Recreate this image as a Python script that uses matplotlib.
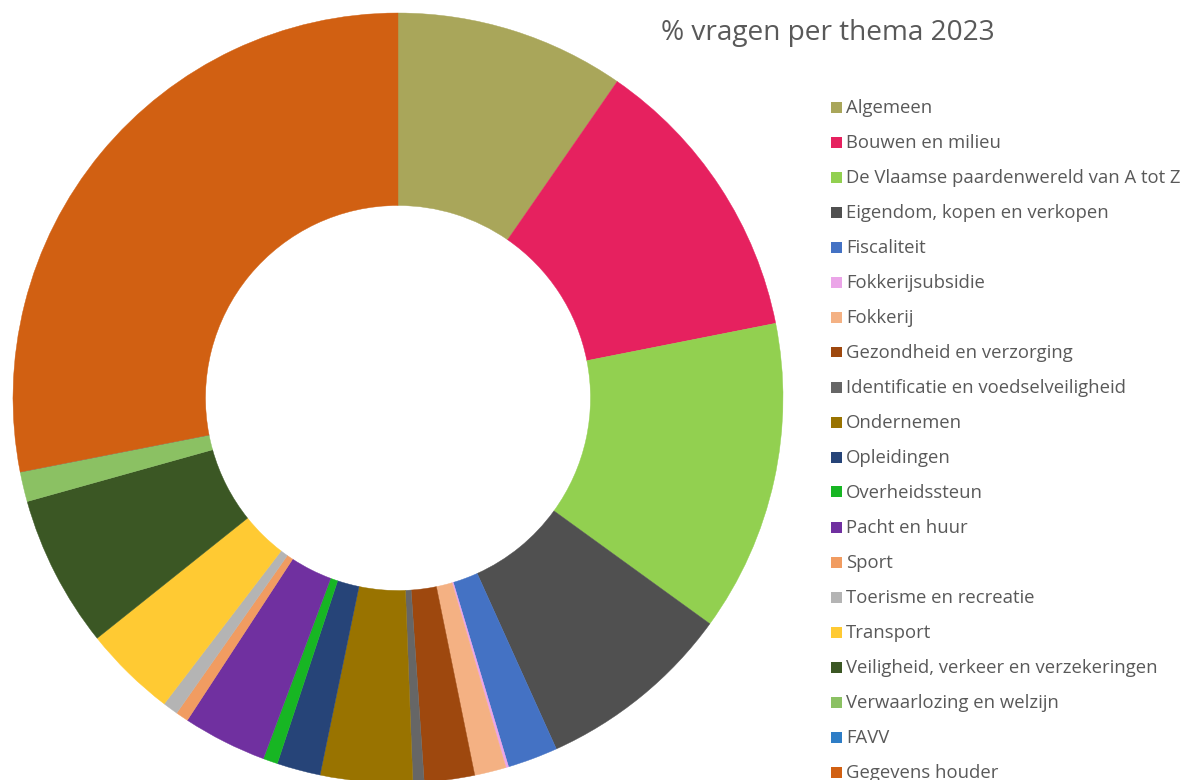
import matplotlib
matplotlib.use("Agg")
import matplotlib.pyplot as plt
from matplotlib.patches import Rectangle

categories = [
    "Algemeen", "Bouwen en milieu", "De Vlaamse paardenwereld van A tot Z",
    "Eigendom, kopen en verkopen", "Fiscaliteit", "Fokkerijsubsidie", "Fokkerij",
    "Gezondheid en verzorging", "Identificatie en voedselveiligheid", "Ondernemen",
    "Opleidingen", "Overheidssteun", "Pacht en huur", "Sport",
    "Toerisme en recreatie", "Transport", "Veiligheid, verkeer en verzekeringen",
    "Verwaarlozing en welzijn", "FAVV", "Gegevens houder",
]
percentages = [
    9.64, 12.25, 13.08, 8.28, 2.11, 0.11, 1.33, 2.11, 0.47, 3.86,
    1.83, 0.61, 3.53, 0.53, 0.64, 3.89, 6.39, 1.25, 0.0, 28.08,
]
colors = [
    "#A9A65A", "#E6215F", "#92D050", "#505050", "#4472C4", "#EBA5E8", "#F4B183",
    "#9E480E", "#666666", "#997300", "#264478", "#17B623", "#7030A0", "#F19C61",
    "#B4B4B4", "#FFCA33", "#3B5724", "#8BC163", "#2E7DC6", "#D16012",
]
title = "% vragen per thema 2023"

W, H = 1187, 780
fig = plt.figure(figsize=(W / 100, H / 100), dpi=100)
fig.patch.set_facecolor("white")

cx, cy, R = 398, 398, 385
ax = fig.add_axes([(cx - R) / W, (H - cy - R) / H, 2 * R / W, 2 * R / H])
wedges, _ = ax.pie(percentages, colors=colors, startangle=90, counterclock=False,
                   radius=1, wedgeprops=dict(width=0.5, linewidth=0.3))
for w, c in zip(wedges, colors):
    w.set_edgecolor(c)
ax.set_xlim(-1, 1)
ax.set_ylim(-1, 1)
ax.set_aspect("equal")
ax.axis("off")

txtcol = "#595959"
fontfam = ["Open Sans", "DejaVu Sans"]
fig.text(828 / W, 1 - 33 / H, title, ha="center", va="center", fontsize=20.2,
         color=txtcol, family=fontfam)

y0, dy = 107, 35
for i, (lab, col) in enumerate(zip(categories, colors)):
    y = y0 + i * dy
    fig.patches.append(Rectangle((831 / W, 1 - (y + 5.5) / H), 11 / W, 11 / H,
                                 transform=fig.transFigure, facecolor=col,
                                 edgecolor="none"))
    fig.text(846 / W, 1 - (y + 1) / H, lab, ha="left", va="center", fontsize=13.3,
             color=txtcol, family=fontfam)

fig.savefig("out.png", dpi=100)
